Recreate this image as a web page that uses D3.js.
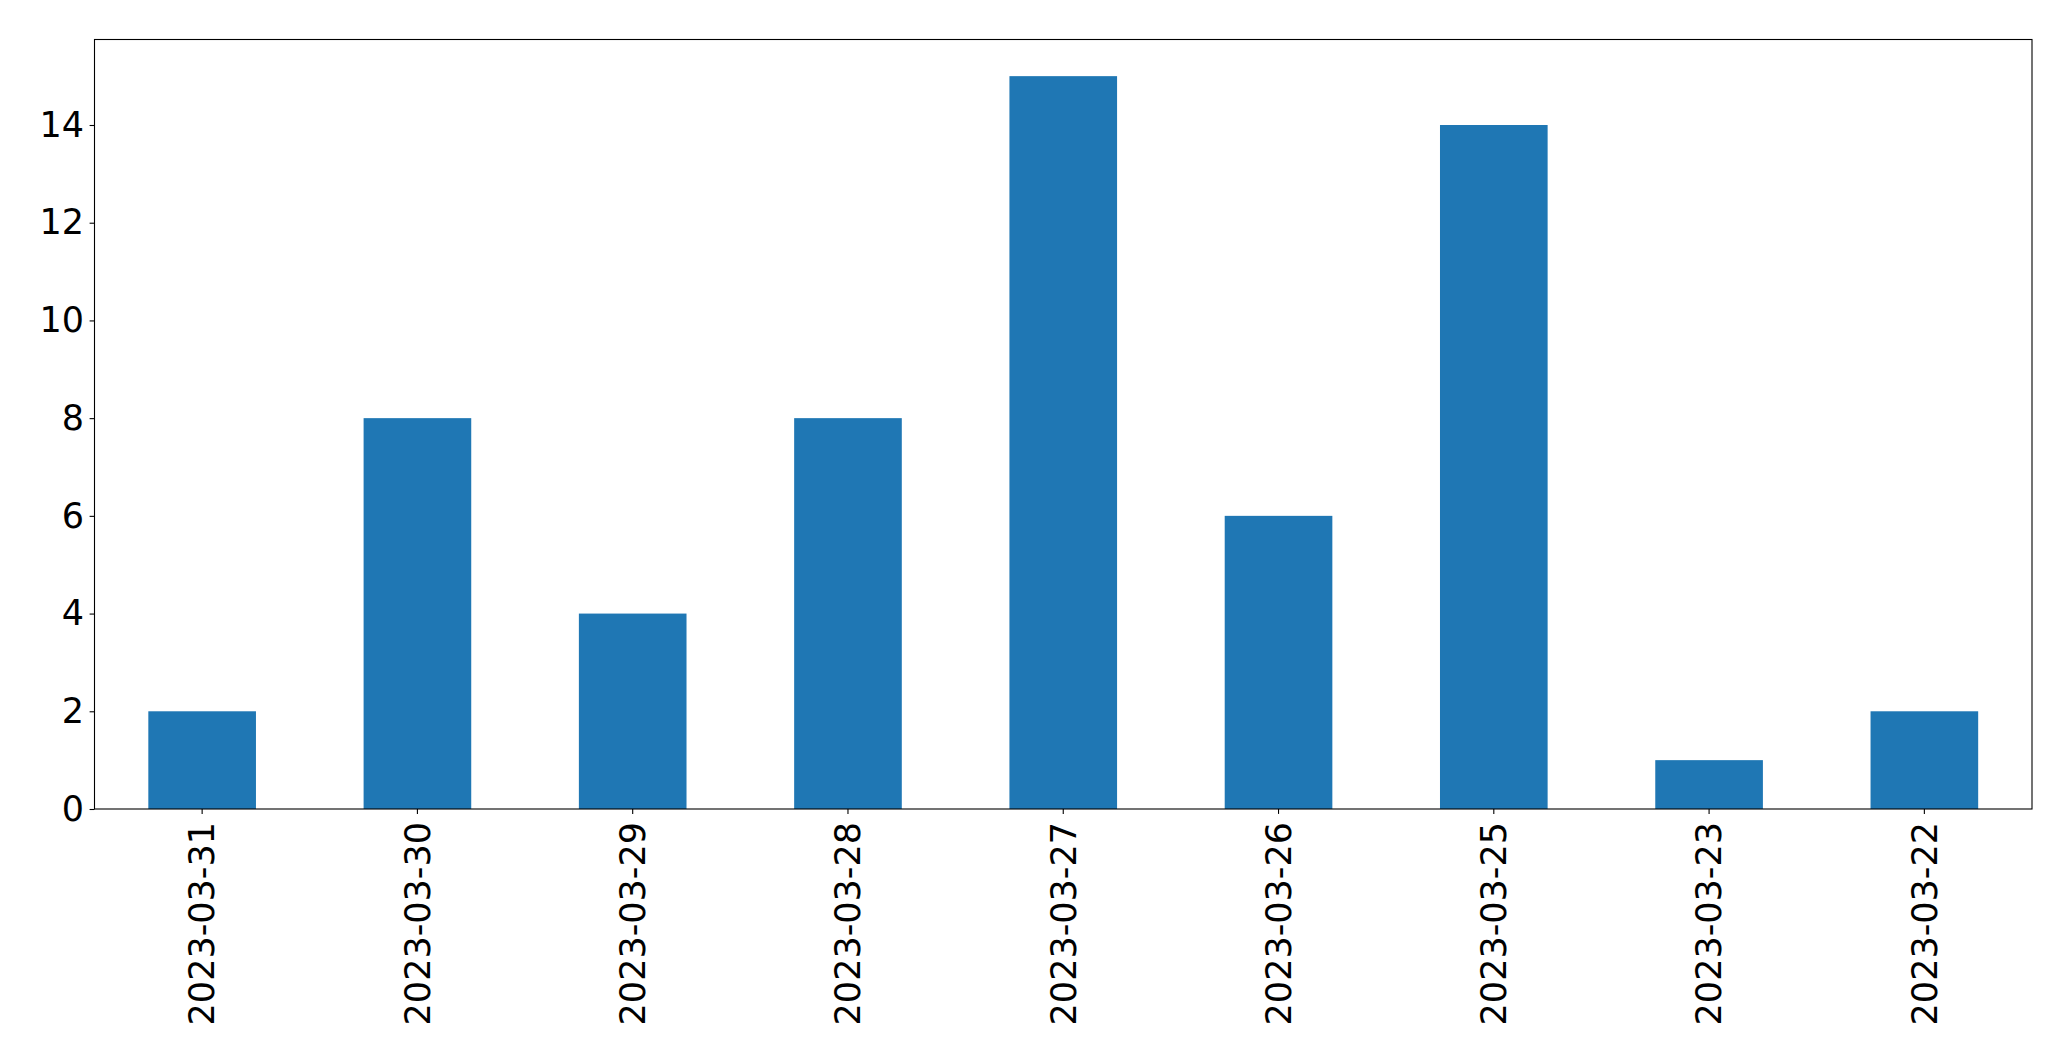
<!DOCTYPE html>
<html><head><meta charset="utf-8">
<script src="https://cdn.jsdelivr.net/npm/d3@7"></script>
<style>body{margin:0;background:#fff;}svg{display:block;}</style>
</head><body>
<script>
const categories = ["2023-03-31","2023-03-30","2023-03-29","2023-03-28","2023-03-27","2023-03-26","2023-03-25","2023-03-23","2023-03-22"];
const values = [2, 8, 4, 8, 15, 6, 14, 1, 2];
const yTicks = [0, 2, 4, 6, 8, 10, 12, 14];

const W = 2071, H = 1061;
const m = {left: 94.5, right: 2071 - 2032, top: 39.5, bottom: 1061 - 809};
const iw = W - m.left - m.right, ih = H - m.top - m.bottom;

const svg = d3.select("body").append("svg").attr("width", W).attr("height", H);
const g = svg.append("g").attr("transform", `translate(${m.left},${m.top})`);

const x = d3.scaleBand().domain(categories).range([0, iw]).paddingInner(0.5).paddingOuter(0.25);
const y = d3.scaleLinear().domain([0, 15 * 1.05]).range([ih, 0]);

g.selectAll("rect.bar").data(values).join("rect").attr("class","bar")
  .attr("x", (d,i) => x(categories[i]))
  .attr("width", x.bandwidth())
  .attr("y", d => y(d))
  .attr("height", d => ih - y(d))
  .attr("fill", "#1f77b4");

const font = "'DejaVu Sans', sans-serif";
const fs = 35;

const ya = g.append("g").call(d3.axisLeft(y).tickValues(yTicks).tickSize(4.9).tickPadding(5.5).tickFormat(d3.format("d")));
const xa = g.append("g").attr("transform", `translate(0,${ih})`).call(d3.axisBottom(x).tickSize(4.9).tickPadding(4.9));
[ya, xa].forEach(a => {
  a.select(".domain").remove();
  a.selectAll(".tick line").attr("stroke", "#000").attr("stroke-width", 1.1);
  a.selectAll("text").attr("fill", "#000").style("font-family", font).style("font-size", fs + "px");
});
xa.selectAll(".tick text")
  .attr("transform", "rotate(-90)")
  .attr("text-anchor", "end")
  .attr("x", -13).attr("y", 0).attr("dy", "0.35em");

g.append("rect").attr("x",0).attr("y",0).attr("width",iw).attr("height",ih)
  .attr("fill","none").attr("stroke","#000").attr("stroke-width",1.1);
</script>
</body></html>
